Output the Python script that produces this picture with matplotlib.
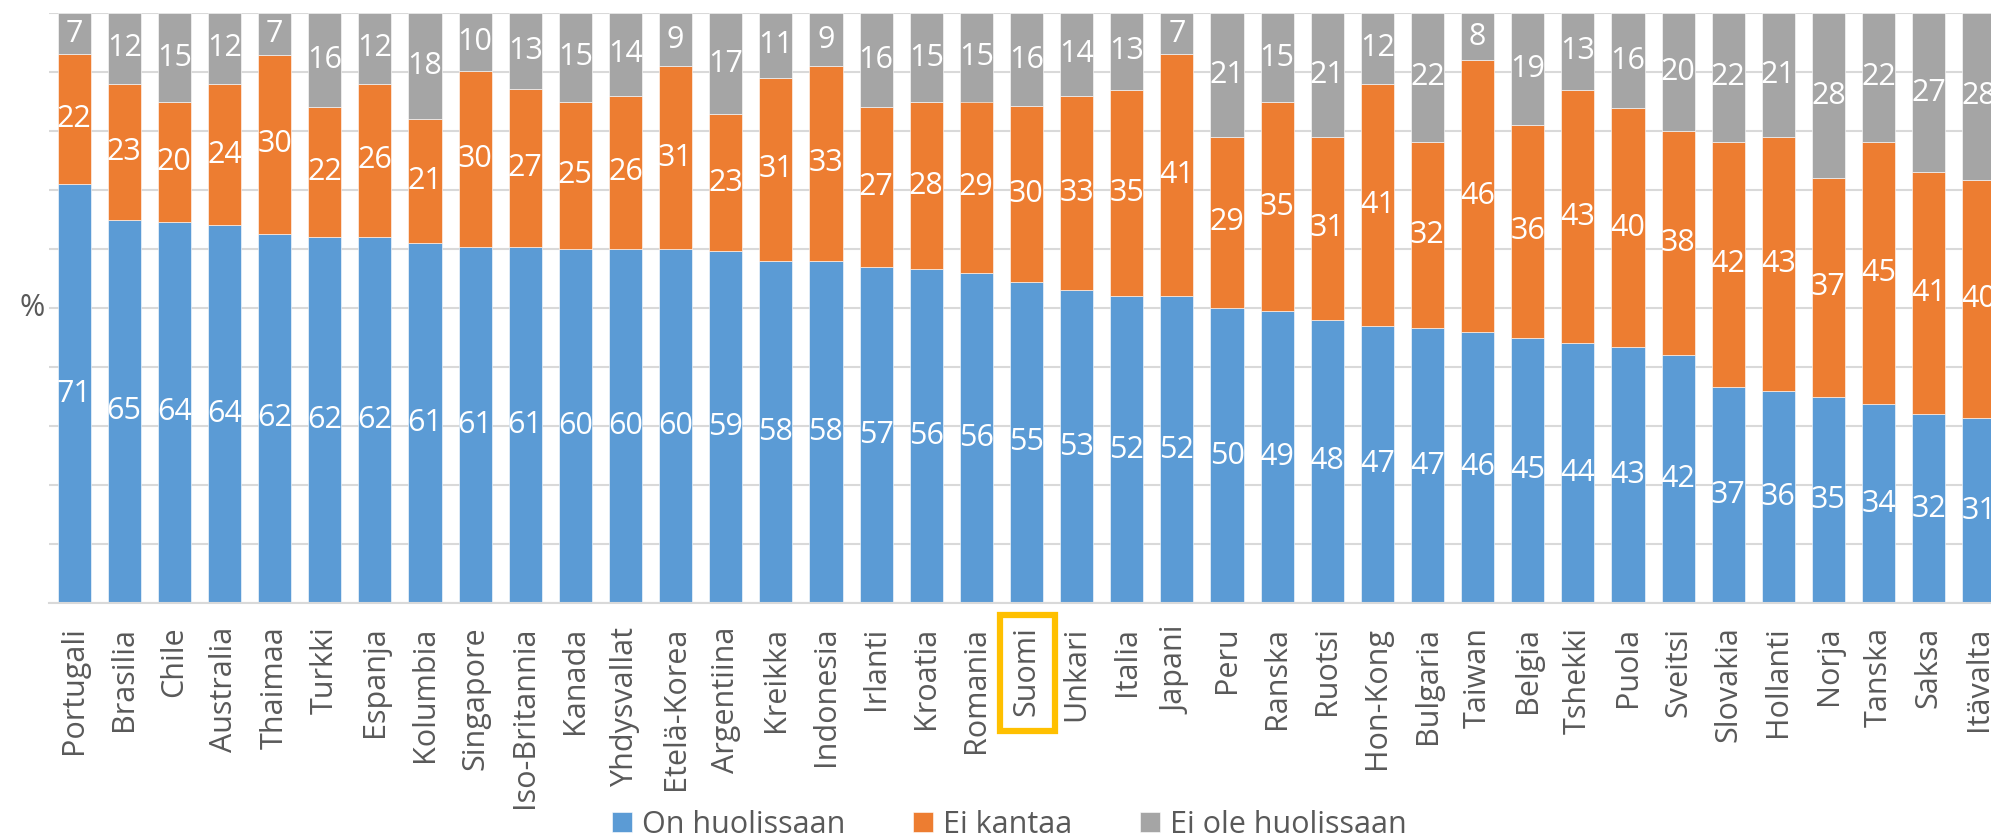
import matplotlib.pyplot as plt
from matplotlib.patches import Rectangle
import numpy as np

plt.rcParams.update(
    {
        "font.family": ["Open Sans", "DejaVu Sans"],
        "font.size": 20,
        "text.color": "#595959",
    }
)

countries = [
    "Portugali", "Brasilia", "Chile", "Australia", "Thaimaa", "Turkki",
    "Espanja", "Kolumbia", "Singapore", "Iso-Britannia", "Kanada",
    "Yhdysvallat", "Etelä-Korea", "Argentiina", "Kreikka", "Indonesia",
    "Irlanti", "Kroatia", "Romania", "Suomi", "Unkari", "Italia", "Japani",
    "Peru", "Ranska", "Ruotsi", "Hon-Kong", "Bulgaria", "Taiwan", "Belgia",
    "Tshekki", "Puola", "Sveitsi", "Slovakia", "Hollanti", "Norja", "Tanska",
    "Saksa", "Itävalta",
]
huolissaan = np.array([71, 65, 64, 64, 62, 62, 62, 61, 61, 61, 60, 60, 60, 59, 58, 58,
                       57, 56, 56, 55, 53, 52, 52, 50, 49, 48, 47, 47, 46, 45, 44, 43,
                       42, 37, 36, 35, 34, 32, 31])
ei_kantaa = np.array([22, 23, 20, 24, 30, 22, 26, 21, 30, 27, 25, 26, 31, 23, 31, 33,
                      27, 28, 29, 30, 33, 35, 41, 29, 35, 31, 41, 32, 46, 36, 43, 40,
                      38, 42, 43, 37, 45, 41, 40])
ei_ole = np.array([7, 12, 15, 12, 7, 16, 12, 18, 10, 13, 15, 14, 9, 17, 11, 9,
                   16, 15, 15, 16, 14, 13, 7, 21, 15, 21, 12, 22, 8, 19, 13, 16,
                   20, 22, 21, 28, 22, 27, 28])
series = [
    ("On huolissaan", huolissaan, "#5B9BD5"),
    ("Ei kantaa", ei_kantaa, "#ED7D31"),
    ("Ei ole huolissaan", ei_ole, "#A5A5A5"),
]
highlight = "Suomi"

W, H = 1991, 839
fig = plt.figure(figsize=(W / 100, H / 100), dpi=100)
# plot area runs a little past the right edge, as in the cropped original
ax = fig.add_axes([49 / W, 1 - 603 / H, 1955 / W, 590 / H])

x = np.arange(len(countries))
total = huolissaan + ei_kantaa + ei_ole
bottom = np.zeros(len(countries))
for name, vals, color in series:
    share = vals / total * 100  # 100 % stacked, like the Excel original
    ax.bar(x, share, 0.66, bottom=bottom, color=color, label=name, zorder=2,
           edgecolor="white", linewidth=0.4)
    for xi, b, s, v in zip(x, bottom, share, vals):
        ax.text(xi, b + s / 2, str(v), ha="center", va="center", color="white",
                fontsize=22, zorder=3)
    bottom += share

ax.set_xlim(-0.5, len(countries) - 0.5)
ax.set_ylim(0, 100)
ax.set_yticks(np.arange(0, 101, 10))
ax.set_yticklabels([])
ax.grid(axis="y", color="#D9D9D9", linewidth=1.5, zorder=0)
ax.tick_params(length=0)
for s in ["top", "right", "left"]:
    ax.spines[s].set_visible(False)
ax.spines["bottom"].set_color("#D9D9D9")
ax.spines["bottom"].set_linewidth(1.5)

ax.set_xticks(x)
ax.set_xticklabels(countries, rotation=90, fontsize=22, color="#595959")
ax.tick_params(axis="x", pad=17)

ax.set_ylabel("%", rotation=0, fontsize=22, color="#595959", va="center")
ax.yaxis.set_label_coords(-0.0085, 0.5)

ax.legend(loc="center", bbox_to_anchor=(0.507, 1 - 825 / H),
          bbox_transform=fig.transFigure, ncol=3, frameon=False, fontsize=22,
          handlelength=0.65, handleheight=0.65, handletextpad=0.35,
          columnspacing=2.2)

# yellow frame round the highlighted country label
fig.canvas.draw()
for lab in ax.get_xticklabels():
    if lab.get_text() == highlight:
        bb = lab.get_window_extent()
        fig.add_artist(Rectangle((bb.x0 - 11, bb.y0 - 15), bb.width + 25,
                                 bb.height + 27, transform=None,
                                 facecolor="none", edgecolor="#FFC000",
                                 linewidth=4.5))

fig.savefig("out.png", dpi=100)
